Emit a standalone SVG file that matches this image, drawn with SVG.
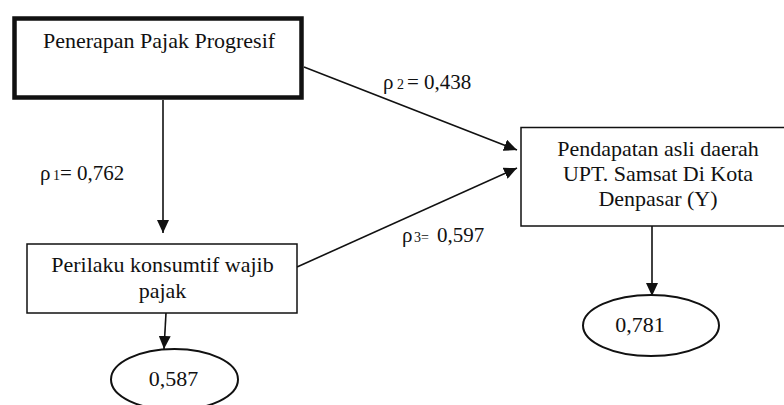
<svg xmlns="http://www.w3.org/2000/svg" width="784" height="405" viewBox="0 0 784 405">
  <style>
    text { font-family: Liberation Serif, DejaVu Serif, serif; fill: #111; }
    .t { font-size: 22px; }
    .lbl { font-size: 21px; }
    .sub { font-size: 14px; }
    .box { fill: #fff; stroke: #111; stroke-width: 1.5; }
    .thick { fill: #fff; stroke: #111; stroke-width: 4.5; }
    .ell { fill: #fff; stroke: #111; stroke-width: 2; }
    .con { stroke: #111; stroke-width: 1.6; fill: none; marker-end: url(#arr); }
  </style>
  <defs>
    <marker id="arr" markerUnits="userSpaceOnUse" markerWidth="13" markerHeight="12" refX="13" refY="6" orient="auto">
      <path d="M0,0 L13,6 L0,12 z" fill="#111"/>
    </marker>
  </defs>
  <rect width="784" height="405" fill="#fff"/>

  <g id="connectors">
    <line class="con" x1="304" y1="67" x2="517" y2="150"/>
    <line class="con" x1="297" y1="267" x2="517" y2="168"/>
    <line class="con" x1="163" y1="100" x2="163" y2="233"/>
    <line class="con" x1="166" y1="313" x2="164" y2="349"/>
    <line class="con" x1="652" y1="226" x2="652" y2="296"/>
  </g>

  <g id="labels">
    <text class="lbl" y="89"><tspan x="383">ρ</tspan><tspan class="sub" x="397">2</tspan><tspan x="407">= 0,438</tspan></text>
    <text class="lbl" y="180"><tspan x="40">ρ</tspan><tspan class="sub" x="53">1</tspan><tspan x="60">= 0,762</tspan></text>
    <text class="lbl" y="242"><tspan x="402">ρ</tspan><tspan class="sub" x="414">3</tspan><tspan class="sub" x="421">=</tspan><tspan x="437">0,597</tspan></text>
  </g>

  <g id="node-penerapan">
    <rect class="thick" x="14.5" y="18.5" width="287" height="79"/>
    <text class="t" x="159" y="48" text-anchor="middle">Penerapan Pajak Progresif</text>
  </g>

  <g id="node-perilaku">
    <rect class="box" x="27" y="244" width="270" height="69"/>
    <text class="t" x="162.5" y="272" text-anchor="middle">Perilaku konsumtif wajib</text>
    <text class="t" x="162.5" y="298" text-anchor="middle">pajak</text>
  </g>

  <g id="node-pendapatan">
    <rect class="box" x="521" y="127.5" width="274" height="98.5"/>
    <text class="t" x="658" y="156" text-anchor="middle">Pendapatan asli daerah</text>
    <text class="t" x="658" y="181" text-anchor="middle">UPT. Samsat Di Kota</text>
    <text class="t" x="658" y="206" text-anchor="middle">Denpasar (Y)</text>
  </g>

  <g id="node-e1">
    <ellipse class="ell" cx="174.5" cy="379.5" rx="63.5" ry="30.5"/>
    <text class="t" x="173.5" y="386" text-anchor="middle">0,587</text>
  </g>

  <g id="node-e2">
    <ellipse class="ell" cx="651" cy="325.5" rx="68" ry="30.5"/>
    <text class="t" x="640" y="332" text-anchor="middle">0,781</text>
  </g>
</svg>
